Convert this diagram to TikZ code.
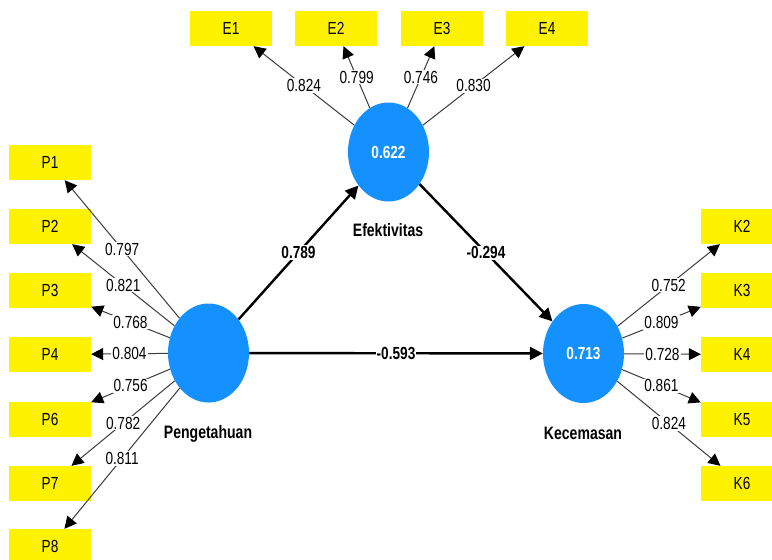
\documentclass[tikz,border=0pt]{standalone}
\usepackage{fontspec}
\setmainfont[FakeStretch=0.78]{Liberation Sans}
\usetikzlibrary{arrows.meta,shapes.geometric}
\definecolor{lvblue}{RGB}{20,145,255}
\definecolor{loadgray}{RGB}{60,60,60}
\begin{document}
\begin{tikzpicture}[x=1pt,y=-1pt,
  ind/.style={rectangle,fill=yellow,minimum width=82pt,minimum height=35pt,inner sep=0pt,font=\fontsize{17.5}{17.5}\selectfont},
  lat/.style={ellipse,fill=lvblue,minimum width=81pt,minimum height=99pt,inner sep=0pt,text=white,font=\fontsize{17.5}{17.5}\selectfont\bfseries},
  latname/.style={inner sep=0pt,font=\fontsize{18}{18}\selectfont\bfseries},
  load/.style={draw=loadgray,line width=1pt,-{Triangle[length=12pt,width=12pt,color=black]}},
  path/.style={draw=black,line width=2.4pt,-{Triangle[length=13pt,width=13pt]}},
  val/.style={fill=white,inner sep=1pt,text=black,font=\fontsize{17.5}{17.5}\selectfont},
  pval/.style={fill=white,inner sep=1pt,text=black,font=\fontsize{17.5}{17.5}\selectfont\bfseries}
]
\useasboundingbox (0,0) rectangle (772,560);
\fill[white] (0,0) rectangle (772,560);
\clip (0,0) rectangle (772,560);

% latent variables
\node[lat] (pe) at (208.5,353) {};
\node[lat] (ef) at (388.5,152) {0.622};
\node[lat] (ke) at (583.5,353.5) {0.713};
\node[latname] (pename) at (208,434) {Pengetahuan};
\node[latname] (efname) at (388,230) {Efektivitas};
\node[latname] (kename) at (583,433) {Kecemasan};

% indicators
\node[ind] (p1) at (50,162.5) {P1};
\node[ind] (p2) at (50,226.5) {P2};
\node[ind] (p3) at (50,290.5) {P3};
\node[ind] (p4) at (50,354.5) {P4};
\node[ind] (p6) at (50,419.5) {P6};
\node[ind] (p7) at (50,483.5) {P7};
\node[ind] (p8) at (50,546.5) {P8};

\node[ind] (e1) at (231,28.5) {E1};
\node[ind] (e2) at (336,28.5) {E2};
\node[ind] (e3) at (442,28.5) {E3};
\node[ind] (e4) at (547,28.5) {E4};

\node[ind] (k2) at (742,226.5) {K2};
\node[ind] (k3) at (742,290.5) {K3};
\node[ind] (k4) at (742,354.5) {K4};
\node[ind] (k5) at (742,419.5) {K5};
\node[ind] (k6) at (742,483.5) {K6};

% loadings
\draw[load] (pe) -- node[val]{0.797} (p1);
\draw[load] (pe) -- node[val]{0.821} (p2);
\draw[load] (pe) -- node[val]{0.768} (p3);
\draw[load] (pe) -- node[val]{0.804} (p4);
\draw[load] (pe) -- node[val]{0.756} (p6);
\draw[load] (pe) -- node[val]{0.782} (p7);
\draw[load] (pe) -- node[val]{0.811} (p8);

\draw[load] (ef) -- node[val]{0.824} (e1);
\draw[load] (ef) -- node[val]{0.799} (e2);
\draw[load] (ef) -- node[val]{0.746} (e3);
\draw[load] (ef) -- node[val]{0.830} (e4);

\draw[load] (ke) -- node[val]{0.752} (k2);
\draw[load] (ke) -- node[val]{0.809} (k3);
\draw[load] (ke) -- node[val]{0.728} (k4);
\draw[load] (ke) -- node[val]{0.861} (k5);
\draw[load] (ke) -- node[val]{0.824} (k6);

% structural paths
\draw[path] (pe) -- node[pval]{0.789} (ef);
\draw[path] (ef) -- node[pval]{-0.294} (ke);
\draw[path] (pe) -- node[pval]{-0.593} (ke);
\end{tikzpicture}
\end{document}
